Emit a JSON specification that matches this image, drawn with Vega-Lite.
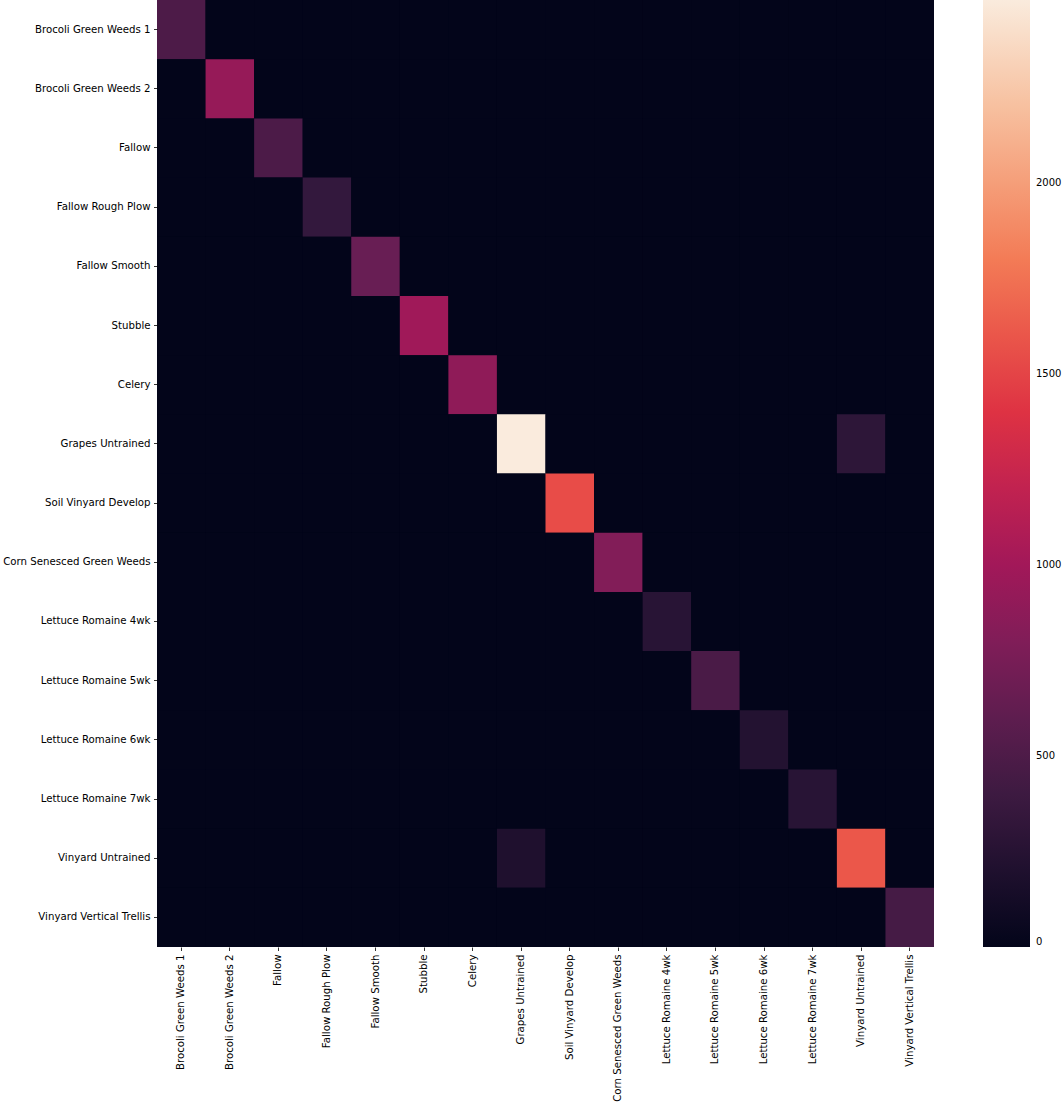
{
  "$schema": "https://vega.github.io/schema/vega-lite/v6.json",
  "width": 777,
  "height": 947,
  "autosize": {"type": "none"},
  "padding": {"left": 157, "top": 0, "right": 128, "bottom": 157},
  "background": "white",
  "config": {
    "view": {"stroke": null, "fill": "#03051a"},
    "font": "DejaVu Sans",
    "axis": {"grid": false, "labelFont": "DejaVu Sans", "labelFontSize": 10.2, "labelColor": "#000000", "tickColor": "#000000", "tickSize": 3.5, "tickWidth": 0.8, "domain": false, "labelPadding": 3.5, "title": null},
    "legend": {"labelFont": "DejaVu Sans", "labelFontSize": 10, "labelColor": "#000000"}
  },
  "data": {"values": [
    {"actual":"Brocoli Green Weeds 1","predicted":"Brocoli Green Weeds 1","n":500},
    {"actual":"Brocoli Green Weeds 1","predicted":"Brocoli Green Weeds 2","n":0},
    {"actual":"Brocoli Green Weeds 1","predicted":"Fallow","n":0},
    {"actual":"Brocoli Green Weeds 1","predicted":"Fallow Rough Plow","n":0},
    {"actual":"Brocoli Green Weeds 1","predicted":"Fallow Smooth","n":0},
    {"actual":"Brocoli Green Weeds 1","predicted":"Stubble","n":0},
    {"actual":"Brocoli Green Weeds 1","predicted":"Celery","n":0},
    {"actual":"Brocoli Green Weeds 1","predicted":"Grapes Untrained","n":0},
    {"actual":"Brocoli Green Weeds 1","predicted":"Soil Vinyard Develop","n":0},
    {"actual":"Brocoli Green Weeds 1","predicted":"Corn Senesced Green Weeds","n":0},
    {"actual":"Brocoli Green Weeds 1","predicted":"Lettuce Romaine 4wk","n":0},
    {"actual":"Brocoli Green Weeds 1","predicted":"Lettuce Romaine 5wk","n":0},
    {"actual":"Brocoli Green Weeds 1","predicted":"Lettuce Romaine 6wk","n":0},
    {"actual":"Brocoli Green Weeds 1","predicted":"Lettuce Romaine 7wk","n":0},
    {"actual":"Brocoli Green Weeds 1","predicted":"Vinyard Untrained","n":0},
    {"actual":"Brocoli Green Weeds 1","predicted":"Vinyard Vertical Trellis","n":0},
    {"actual":"Brocoli Green Weeds 2","predicted":"Brocoli Green Weeds 1","n":0},
    {"actual":"Brocoli Green Weeds 2","predicted":"Brocoli Green Weeds 2","n":930},
    {"actual":"Brocoli Green Weeds 2","predicted":"Fallow","n":0},
    {"actual":"Brocoli Green Weeds 2","predicted":"Fallow Rough Plow","n":0},
    {"actual":"Brocoli Green Weeds 2","predicted":"Fallow Smooth","n":0},
    {"actual":"Brocoli Green Weeds 2","predicted":"Stubble","n":0},
    {"actual":"Brocoli Green Weeds 2","predicted":"Celery","n":0},
    {"actual":"Brocoli Green Weeds 2","predicted":"Grapes Untrained","n":0},
    {"actual":"Brocoli Green Weeds 2","predicted":"Soil Vinyard Develop","n":0},
    {"actual":"Brocoli Green Weeds 2","predicted":"Corn Senesced Green Weeds","n":0},
    {"actual":"Brocoli Green Weeds 2","predicted":"Lettuce Romaine 4wk","n":0},
    {"actual":"Brocoli Green Weeds 2","predicted":"Lettuce Romaine 5wk","n":0},
    {"actual":"Brocoli Green Weeds 2","predicted":"Lettuce Romaine 6wk","n":0},
    {"actual":"Brocoli Green Weeds 2","predicted":"Lettuce Romaine 7wk","n":0},
    {"actual":"Brocoli Green Weeds 2","predicted":"Vinyard Untrained","n":0},
    {"actual":"Brocoli Green Weeds 2","predicted":"Vinyard Vertical Trellis","n":0},
    {"actual":"Fallow","predicted":"Brocoli Green Weeds 1","n":0},
    {"actual":"Fallow","predicted":"Brocoli Green Weeds 2","n":0},
    {"actual":"Fallow","predicted":"Fallow","n":490},
    {"actual":"Fallow","predicted":"Fallow Rough Plow","n":0},
    {"actual":"Fallow","predicted":"Fallow Smooth","n":0},
    {"actual":"Fallow","predicted":"Stubble","n":0},
    {"actual":"Fallow","predicted":"Celery","n":0},
    {"actual":"Fallow","predicted":"Grapes Untrained","n":0},
    {"actual":"Fallow","predicted":"Soil Vinyard Develop","n":0},
    {"actual":"Fallow","predicted":"Corn Senesced Green Weeds","n":0},
    {"actual":"Fallow","predicted":"Lettuce Romaine 4wk","n":0},
    {"actual":"Fallow","predicted":"Lettuce Romaine 5wk","n":0},
    {"actual":"Fallow","predicted":"Lettuce Romaine 6wk","n":0},
    {"actual":"Fallow","predicted":"Lettuce Romaine 7wk","n":0},
    {"actual":"Fallow","predicted":"Vinyard Untrained","n":0},
    {"actual":"Fallow","predicted":"Vinyard Vertical Trellis","n":0},
    {"actual":"Fallow Rough Plow","predicted":"Brocoli Green Weeds 1","n":0},
    {"actual":"Fallow Rough Plow","predicted":"Brocoli Green Weeds 2","n":0},
    {"actual":"Fallow Rough Plow","predicted":"Fallow","n":0},
    {"actual":"Fallow Rough Plow","predicted":"Fallow Rough Plow","n":340},
    {"actual":"Fallow Rough Plow","predicted":"Fallow Smooth","n":0},
    {"actual":"Fallow Rough Plow","predicted":"Stubble","n":0},
    {"actual":"Fallow Rough Plow","predicted":"Celery","n":0},
    {"actual":"Fallow Rough Plow","predicted":"Grapes Untrained","n":0},
    {"actual":"Fallow Rough Plow","predicted":"Soil Vinyard Develop","n":0},
    {"actual":"Fallow Rough Plow","predicted":"Corn Senesced Green Weeds","n":0},
    {"actual":"Fallow Rough Plow","predicted":"Lettuce Romaine 4wk","n":0},
    {"actual":"Fallow Rough Plow","predicted":"Lettuce Romaine 5wk","n":0},
    {"actual":"Fallow Rough Plow","predicted":"Lettuce Romaine 6wk","n":0},
    {"actual":"Fallow Rough Plow","predicted":"Lettuce Romaine 7wk","n":0},
    {"actual":"Fallow Rough Plow","predicted":"Vinyard Untrained","n":0},
    {"actual":"Fallow Rough Plow","predicted":"Vinyard Vertical Trellis","n":0},
    {"actual":"Fallow Smooth","predicted":"Brocoli Green Weeds 1","n":0},
    {"actual":"Fallow Smooth","predicted":"Brocoli Green Weeds 2","n":0},
    {"actual":"Fallow Smooth","predicted":"Fallow","n":0},
    {"actual":"Fallow Smooth","predicted":"Fallow Rough Plow","n":0},
    {"actual":"Fallow Smooth","predicted":"Fallow Smooth","n":660},
    {"actual":"Fallow Smooth","predicted":"Stubble","n":0},
    {"actual":"Fallow Smooth","predicted":"Celery","n":0},
    {"actual":"Fallow Smooth","predicted":"Grapes Untrained","n":0},
    {"actual":"Fallow Smooth","predicted":"Soil Vinyard Develop","n":0},
    {"actual":"Fallow Smooth","predicted":"Corn Senesced Green Weeds","n":0},
    {"actual":"Fallow Smooth","predicted":"Lettuce Romaine 4wk","n":0},
    {"actual":"Fallow Smooth","predicted":"Lettuce Romaine 5wk","n":0},
    {"actual":"Fallow Smooth","predicted":"Lettuce Romaine 6wk","n":0},
    {"actual":"Fallow Smooth","predicted":"Lettuce Romaine 7wk","n":0},
    {"actual":"Fallow Smooth","predicted":"Vinyard Untrained","n":0},
    {"actual":"Fallow Smooth","predicted":"Vinyard Vertical Trellis","n":0},
    {"actual":"Stubble","predicted":"Brocoli Green Weeds 1","n":0},
    {"actual":"Stubble","predicted":"Brocoli Green Weeds 2","n":0},
    {"actual":"Stubble","predicted":"Fallow","n":0},
    {"actual":"Stubble","predicted":"Fallow Rough Plow","n":0},
    {"actual":"Stubble","predicted":"Fallow Smooth","n":0},
    {"actual":"Stubble","predicted":"Stubble","n":990},
    {"actual":"Stubble","predicted":"Celery","n":0},
    {"actual":"Stubble","predicted":"Grapes Untrained","n":0},
    {"actual":"Stubble","predicted":"Soil Vinyard Develop","n":0},
    {"actual":"Stubble","predicted":"Corn Senesced Green Weeds","n":0},
    {"actual":"Stubble","predicted":"Lettuce Romaine 4wk","n":0},
    {"actual":"Stubble","predicted":"Lettuce Romaine 5wk","n":0},
    {"actual":"Stubble","predicted":"Lettuce Romaine 6wk","n":0},
    {"actual":"Stubble","predicted":"Lettuce Romaine 7wk","n":0},
    {"actual":"Stubble","predicted":"Vinyard Untrained","n":0},
    {"actual":"Stubble","predicted":"Vinyard Vertical Trellis","n":0},
    {"actual":"Celery","predicted":"Brocoli Green Weeds 1","n":0},
    {"actual":"Celery","predicted":"Brocoli Green Weeds 2","n":0},
    {"actual":"Celery","predicted":"Fallow","n":0},
    {"actual":"Celery","predicted":"Fallow Rough Plow","n":0},
    {"actual":"Celery","predicted":"Fallow Smooth","n":0},
    {"actual":"Celery","predicted":"Stubble","n":0},
    {"actual":"Celery","predicted":"Celery","n":890},
    {"actual":"Celery","predicted":"Grapes Untrained","n":0},
    {"actual":"Celery","predicted":"Soil Vinyard Develop","n":0},
    {"actual":"Celery","predicted":"Corn Senesced Green Weeds","n":0},
    {"actual":"Celery","predicted":"Lettuce Romaine 4wk","n":0},
    {"actual":"Celery","predicted":"Lettuce Romaine 5wk","n":0},
    {"actual":"Celery","predicted":"Lettuce Romaine 6wk","n":0},
    {"actual":"Celery","predicted":"Lettuce Romaine 7wk","n":0},
    {"actual":"Celery","predicted":"Vinyard Untrained","n":0},
    {"actual":"Celery","predicted":"Vinyard Vertical Trellis","n":0},
    {"actual":"Grapes Untrained","predicted":"Brocoli Green Weeds 1","n":0},
    {"actual":"Grapes Untrained","predicted":"Brocoli Green Weeds 2","n":0},
    {"actual":"Grapes Untrained","predicted":"Fallow","n":0},
    {"actual":"Grapes Untrained","predicted":"Fallow Rough Plow","n":0},
    {"actual":"Grapes Untrained","predicted":"Fallow Smooth","n":0},
    {"actual":"Grapes Untrained","predicted":"Stubble","n":0},
    {"actual":"Grapes Untrained","predicted":"Celery","n":0},
    {"actual":"Grapes Untrained","predicted":"Grapes Untrained","n":2480},
    {"actual":"Grapes Untrained","predicted":"Soil Vinyard Develop","n":0},
    {"actual":"Grapes Untrained","predicted":"Corn Senesced Green Weeds","n":0},
    {"actual":"Grapes Untrained","predicted":"Lettuce Romaine 4wk","n":0},
    {"actual":"Grapes Untrained","predicted":"Lettuce Romaine 5wk","n":0},
    {"actual":"Grapes Untrained","predicted":"Lettuce Romaine 6wk","n":0},
    {"actual":"Grapes Untrained","predicted":"Lettuce Romaine 7wk","n":0},
    {"actual":"Grapes Untrained","predicted":"Vinyard Untrained","n":300},
    {"actual":"Grapes Untrained","predicted":"Vinyard Vertical Trellis","n":0},
    {"actual":"Soil Vinyard Develop","predicted":"Brocoli Green Weeds 1","n":0},
    {"actual":"Soil Vinyard Develop","predicted":"Brocoli Green Weeds 2","n":0},
    {"actual":"Soil Vinyard Develop","predicted":"Fallow","n":0},
    {"actual":"Soil Vinyard Develop","predicted":"Fallow Rough Plow","n":0},
    {"actual":"Soil Vinyard Develop","predicted":"Fallow Smooth","n":0},
    {"actual":"Soil Vinyard Develop","predicted":"Stubble","n":0},
    {"actual":"Soil Vinyard Develop","predicted":"Celery","n":0},
    {"actual":"Soil Vinyard Develop","predicted":"Grapes Untrained","n":0},
    {"actual":"Soil Vinyard Develop","predicted":"Soil Vinyard Develop","n":1550},
    {"actual":"Soil Vinyard Develop","predicted":"Corn Senesced Green Weeds","n":0},
    {"actual":"Soil Vinyard Develop","predicted":"Lettuce Romaine 4wk","n":0},
    {"actual":"Soil Vinyard Develop","predicted":"Lettuce Romaine 5wk","n":0},
    {"actual":"Soil Vinyard Develop","predicted":"Lettuce Romaine 6wk","n":0},
    {"actual":"Soil Vinyard Develop","predicted":"Lettuce Romaine 7wk","n":0},
    {"actual":"Soil Vinyard Develop","predicted":"Vinyard Untrained","n":0},
    {"actual":"Soil Vinyard Develop","predicted":"Vinyard Vertical Trellis","n":0},
    {"actual":"Corn Senesced Green Weeds","predicted":"Brocoli Green Weeds 1","n":0},
    {"actual":"Corn Senesced Green Weeds","predicted":"Brocoli Green Weeds 2","n":0},
    {"actual":"Corn Senesced Green Weeds","predicted":"Fallow","n":0},
    {"actual":"Corn Senesced Green Weeds","predicted":"Fallow Rough Plow","n":0},
    {"actual":"Corn Senesced Green Weeds","predicted":"Fallow Smooth","n":0},
    {"actual":"Corn Senesced Green Weeds","predicted":"Stubble","n":0},
    {"actual":"Corn Senesced Green Weeds","predicted":"Celery","n":0},
    {"actual":"Corn Senesced Green Weeds","predicted":"Grapes Untrained","n":0},
    {"actual":"Corn Senesced Green Weeds","predicted":"Soil Vinyard Develop","n":0},
    {"actual":"Corn Senesced Green Weeds","predicted":"Corn Senesced Green Weeds","n":815},
    {"actual":"Corn Senesced Green Weeds","predicted":"Lettuce Romaine 4wk","n":0},
    {"actual":"Corn Senesced Green Weeds","predicted":"Lettuce Romaine 5wk","n":0},
    {"actual":"Corn Senesced Green Weeds","predicted":"Lettuce Romaine 6wk","n":0},
    {"actual":"Corn Senesced Green Weeds","predicted":"Lettuce Romaine 7wk","n":0},
    {"actual":"Corn Senesced Green Weeds","predicted":"Vinyard Untrained","n":0},
    {"actual":"Corn Senesced Green Weeds","predicted":"Vinyard Vertical Trellis","n":0},
    {"actual":"Lettuce Romaine 4wk","predicted":"Brocoli Green Weeds 1","n":0},
    {"actual":"Lettuce Romaine 4wk","predicted":"Brocoli Green Weeds 2","n":0},
    {"actual":"Lettuce Romaine 4wk","predicted":"Fallow","n":0},
    {"actual":"Lettuce Romaine 4wk","predicted":"Fallow Rough Plow","n":0},
    {"actual":"Lettuce Romaine 4wk","predicted":"Fallow Smooth","n":0},
    {"actual":"Lettuce Romaine 4wk","predicted":"Stubble","n":0},
    {"actual":"Lettuce Romaine 4wk","predicted":"Celery","n":0},
    {"actual":"Lettuce Romaine 4wk","predicted":"Grapes Untrained","n":0},
    {"actual":"Lettuce Romaine 4wk","predicted":"Soil Vinyard Develop","n":0},
    {"actual":"Lettuce Romaine 4wk","predicted":"Corn Senesced Green Weeds","n":0},
    {"actual":"Lettuce Romaine 4wk","predicted":"Lettuce Romaine 4wk","n":265},
    {"actual":"Lettuce Romaine 4wk","predicted":"Lettuce Romaine 5wk","n":0},
    {"actual":"Lettuce Romaine 4wk","predicted":"Lettuce Romaine 6wk","n":0},
    {"actual":"Lettuce Romaine 4wk","predicted":"Lettuce Romaine 7wk","n":0},
    {"actual":"Lettuce Romaine 4wk","predicted":"Vinyard Untrained","n":0},
    {"actual":"Lettuce Romaine 4wk","predicted":"Vinyard Vertical Trellis","n":0},
    {"actual":"Lettuce Romaine 5wk","predicted":"Brocoli Green Weeds 1","n":0},
    {"actual":"Lettuce Romaine 5wk","predicted":"Brocoli Green Weeds 2","n":0},
    {"actual":"Lettuce Romaine 5wk","predicted":"Fallow","n":0},
    {"actual":"Lettuce Romaine 5wk","predicted":"Fallow Rough Plow","n":0},
    {"actual":"Lettuce Romaine 5wk","predicted":"Fallow Smooth","n":0},
    {"actual":"Lettuce Romaine 5wk","predicted":"Stubble","n":0},
    {"actual":"Lettuce Romaine 5wk","predicted":"Celery","n":0},
    {"actual":"Lettuce Romaine 5wk","predicted":"Grapes Untrained","n":0},
    {"actual":"Lettuce Romaine 5wk","predicted":"Soil Vinyard Develop","n":0},
    {"actual":"Lettuce Romaine 5wk","predicted":"Corn Senesced Green Weeds","n":0},
    {"actual":"Lettuce Romaine 5wk","predicted":"Lettuce Romaine 4wk","n":0},
    {"actual":"Lettuce Romaine 5wk","predicted":"Lettuce Romaine 5wk","n":480},
    {"actual":"Lettuce Romaine 5wk","predicted":"Lettuce Romaine 6wk","n":0},
    {"actual":"Lettuce Romaine 5wk","predicted":"Lettuce Romaine 7wk","n":0},
    {"actual":"Lettuce Romaine 5wk","predicted":"Vinyard Untrained","n":0},
    {"actual":"Lettuce Romaine 5wk","predicted":"Vinyard Vertical Trellis","n":0},
    {"actual":"Lettuce Romaine 6wk","predicted":"Brocoli Green Weeds 1","n":0},
    {"actual":"Lettuce Romaine 6wk","predicted":"Brocoli Green Weeds 2","n":0},
    {"actual":"Lettuce Romaine 6wk","predicted":"Fallow","n":0},
    {"actual":"Lettuce Romaine 6wk","predicted":"Fallow Rough Plow","n":0},
    {"actual":"Lettuce Romaine 6wk","predicted":"Fallow Smooth","n":0},
    {"actual":"Lettuce Romaine 6wk","predicted":"Stubble","n":0},
    {"actual":"Lettuce Romaine 6wk","predicted":"Celery","n":0},
    {"actual":"Lettuce Romaine 6wk","predicted":"Grapes Untrained","n":0},
    {"actual":"Lettuce Romaine 6wk","predicted":"Soil Vinyard Develop","n":0},
    {"actual":"Lettuce Romaine 6wk","predicted":"Corn Senesced Green Weeds","n":0},
    {"actual":"Lettuce Romaine 6wk","predicted":"Lettuce Romaine 4wk","n":0},
    {"actual":"Lettuce Romaine 6wk","predicted":"Lettuce Romaine 5wk","n":0},
    {"actual":"Lettuce Romaine 6wk","predicted":"Lettuce Romaine 6wk","n":228},
    {"actual":"Lettuce Romaine 6wk","predicted":"Lettuce Romaine 7wk","n":0},
    {"actual":"Lettuce Romaine 6wk","predicted":"Vinyard Untrained","n":0},
    {"actual":"Lettuce Romaine 6wk","predicted":"Vinyard Vertical Trellis","n":0},
    {"actual":"Lettuce Romaine 7wk","predicted":"Brocoli Green Weeds 1","n":0},
    {"actual":"Lettuce Romaine 7wk","predicted":"Brocoli Green Weeds 2","n":0},
    {"actual":"Lettuce Romaine 7wk","predicted":"Fallow","n":0},
    {"actual":"Lettuce Romaine 7wk","predicted":"Fallow Rough Plow","n":0},
    {"actual":"Lettuce Romaine 7wk","predicted":"Fallow Smooth","n":0},
    {"actual":"Lettuce Romaine 7wk","predicted":"Stubble","n":0},
    {"actual":"Lettuce Romaine 7wk","predicted":"Celery","n":0},
    {"actual":"Lettuce Romaine 7wk","predicted":"Grapes Untrained","n":0},
    {"actual":"Lettuce Romaine 7wk","predicted":"Soil Vinyard Develop","n":0},
    {"actual":"Lettuce Romaine 7wk","predicted":"Corn Senesced Green Weeds","n":0},
    {"actual":"Lettuce Romaine 7wk","predicted":"Lettuce Romaine 4wk","n":0},
    {"actual":"Lettuce Romaine 7wk","predicted":"Lettuce Romaine 5wk","n":0},
    {"actual":"Lettuce Romaine 7wk","predicted":"Lettuce Romaine 6wk","n":0},
    {"actual":"Lettuce Romaine 7wk","predicted":"Lettuce Romaine 7wk","n":265},
    {"actual":"Lettuce Romaine 7wk","predicted":"Vinyard Untrained","n":0},
    {"actual":"Lettuce Romaine 7wk","predicted":"Vinyard Vertical Trellis","n":0},
    {"actual":"Vinyard Untrained","predicted":"Brocoli Green Weeds 1","n":0},
    {"actual":"Vinyard Untrained","predicted":"Brocoli Green Weeds 2","n":0},
    {"actual":"Vinyard Untrained","predicted":"Fallow","n":0},
    {"actual":"Vinyard Untrained","predicted":"Fallow Rough Plow","n":0},
    {"actual":"Vinyard Untrained","predicted":"Fallow Smooth","n":0},
    {"actual":"Vinyard Untrained","predicted":"Stubble","n":0},
    {"actual":"Vinyard Untrained","predicted":"Celery","n":0},
    {"actual":"Vinyard Untrained","predicted":"Grapes Untrained","n":200},
    {"actual":"Vinyard Untrained","predicted":"Soil Vinyard Develop","n":0},
    {"actual":"Vinyard Untrained","predicted":"Corn Senesced Green Weeds","n":0},
    {"actual":"Vinyard Untrained","predicted":"Lettuce Romaine 4wk","n":0},
    {"actual":"Vinyard Untrained","predicted":"Lettuce Romaine 5wk","n":0},
    {"actual":"Vinyard Untrained","predicted":"Lettuce Romaine 6wk","n":0},
    {"actual":"Vinyard Untrained","predicted":"Lettuce Romaine 7wk","n":0},
    {"actual":"Vinyard Untrained","predicted":"Vinyard Untrained","n":1610},
    {"actual":"Vinyard Untrained","predicted":"Vinyard Vertical Trellis","n":0},
    {"actual":"Vinyard Vertical Trellis","predicted":"Brocoli Green Weeds 1","n":0},
    {"actual":"Vinyard Vertical Trellis","predicted":"Brocoli Green Weeds 2","n":0},
    {"actual":"Vinyard Vertical Trellis","predicted":"Fallow","n":0},
    {"actual":"Vinyard Vertical Trellis","predicted":"Fallow Rough Plow","n":0},
    {"actual":"Vinyard Vertical Trellis","predicted":"Fallow Smooth","n":0},
    {"actual":"Vinyard Vertical Trellis","predicted":"Stubble","n":0},
    {"actual":"Vinyard Vertical Trellis","predicted":"Celery","n":0},
    {"actual":"Vinyard Vertical Trellis","predicted":"Grapes Untrained","n":0},
    {"actual":"Vinyard Vertical Trellis","predicted":"Soil Vinyard Develop","n":0},
    {"actual":"Vinyard Vertical Trellis","predicted":"Corn Senesced Green Weeds","n":0},
    {"actual":"Vinyard Vertical Trellis","predicted":"Lettuce Romaine 4wk","n":0},
    {"actual":"Vinyard Vertical Trellis","predicted":"Lettuce Romaine 5wk","n":0},
    {"actual":"Vinyard Vertical Trellis","predicted":"Lettuce Romaine 6wk","n":0},
    {"actual":"Vinyard Vertical Trellis","predicted":"Lettuce Romaine 7wk","n":0},
    {"actual":"Vinyard Vertical Trellis","predicted":"Vinyard Untrained","n":0},
    {"actual":"Vinyard Vertical Trellis","predicted":"Vinyard Vertical Trellis","n":450}
  ]},
  "mark": {"type": "rect", "strokeWidth": 0},
  "encoding": {
    "x": {"field": "predicted", "type": "nominal", "sort": null, "axis": {"labelAngle": 270, "orient": "bottom"}},
    "y": {"field": "actual", "type": "nominal", "sort": null},
    "color": {
      "field": "n",
      "type": "quantitative",
      "scale": {
        "domain": [0, 354.3, 708.6, 1062.9, 1417.1, 1771.4, 2125.7, 2480],
        "range": ["#03051a", "#35193e", "#701f57", "#ad1759", "#e13342", "#f37651", "#f6b48f", "#faebdd"],
        "interpolate": "rgb"
      },
      "legend": {
        "orient": "none",
        "legendX": 826,
        "legendY": 0,
        "direction": "vertical",
        "gradientLength": 947,
        "gradientThickness": 47,
        "gradientStrokeWidth": 0,
        "title": null,
        "padding": 0,
        "values": [0, 500, 1000, 1500, 2000],
        "format": "d",
        "labelOffset": 6
      }
    }
  }
}
